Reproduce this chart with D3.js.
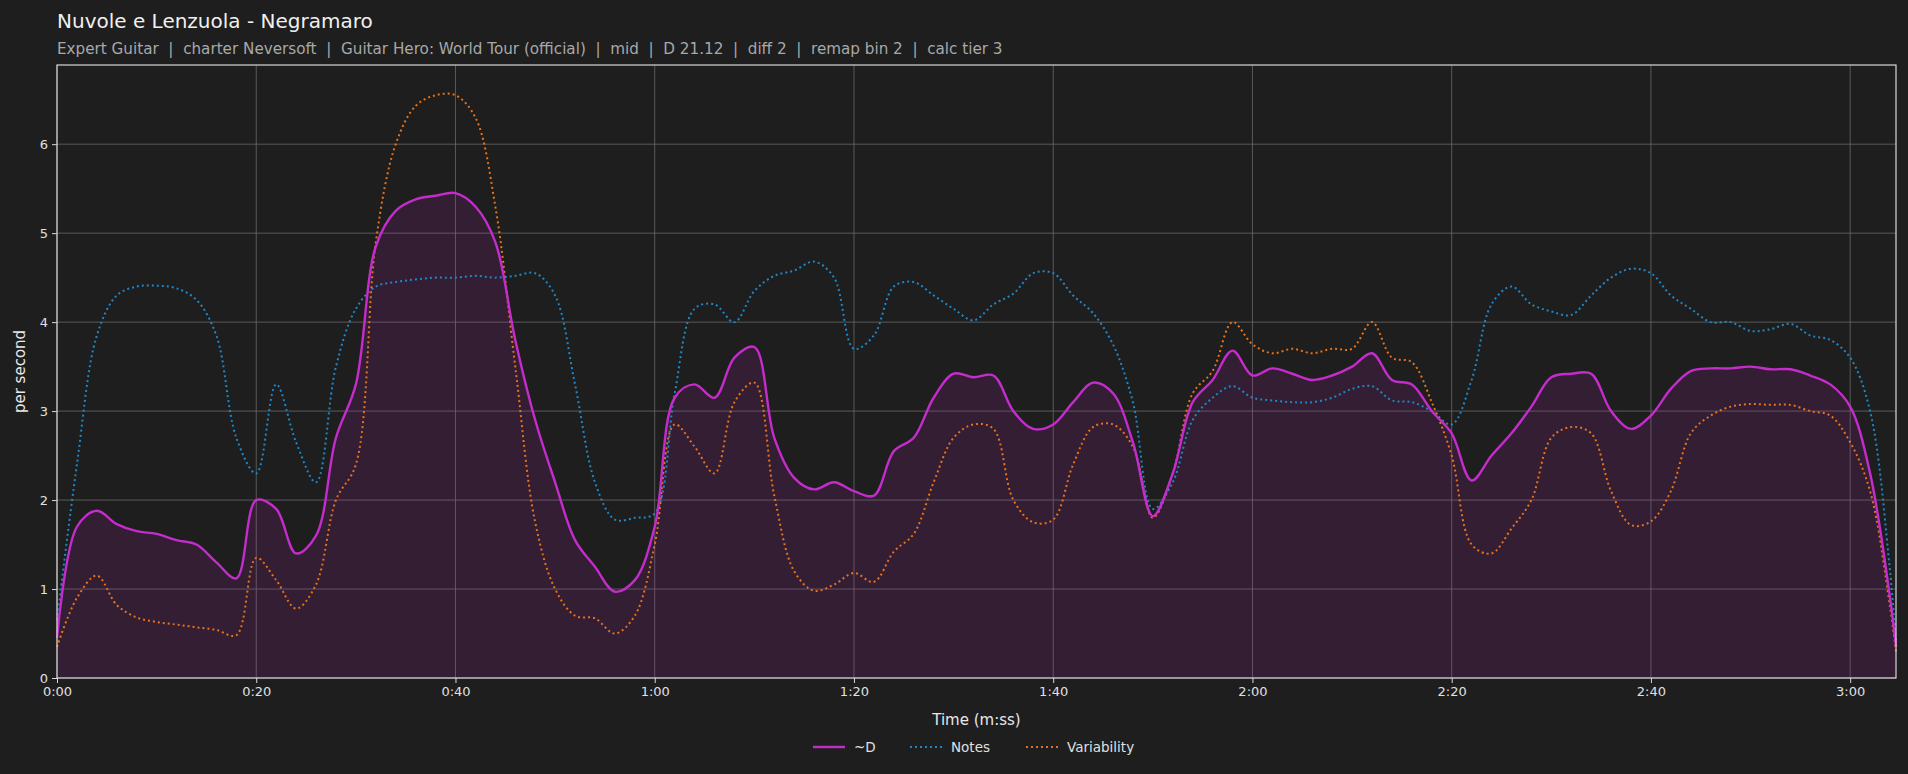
<!DOCTYPE html>
<html><head><meta charset="utf-8">
<script src="https://cdn.jsdelivr.net/npm/d3@7"></script>
<style>body{margin:0;background:#1e1e1e;}svg{display:block;font-family:"DejaVu Sans",sans-serif;}</style>
</head><body><svg id="c" width="1908" height="774"></svg>
<script>
const title = "Nuvole e Lenzuola - Negramaro";
const subtitle = "Expert Guitar  |  charter Neversoft  |  Guitar Hero: World Tour (official)  |  mid  |  D 21.12  |  diff 2  |  remap bin 2  |  calc tier 3";
const times = [0,2,4,6,8,10,12,14,16,18,20,22,24,26,28,30,32,34,36,38,40,42,44,46,48,50,52,54,56,58,60,62,64,66,68,70,72,74,76,78,80,82,84,86,88,90,92,94,96,98,100,102,104,106,108,110,112,114,116,118,120,122,124,126,128,130,132,134,136,138,140,142,144,146,148,150,152,154,156,158,160,162,164,166,168,170,172,174,176,178,180,182,184,184.6];
const dVals = [0.45,1.7,1.88,1.73,1.65,1.62,1.55,1.5,1.3,1.12,2.0,1.9,1.4,1.6,2.7,3.3,4.85,5.25,5.38,5.42,5.45,5.3,4.9,3.8,2.9,2.2,1.55,1.25,0.97,1.1,1.7,3.15,3.3,3.15,3.6,3.72,2.7,2.25,2.12,2.2,2.1,2.05,2.55,2.7,3.15,3.42,3.38,3.4,3.0,2.8,2.85,3.1,3.32,3.2,2.65,1.82,2.3,3.1,3.35,3.68,3.4,3.48,3.42,3.35,3.4,3.5,3.65,3.35,3.3,3.0,2.75,2.22,2.5,2.75,3.05,3.38,3.42,3.42,3.0,2.8,2.95,3.25,3.45,3.48,3.48,3.5,3.47,3.47,3.4,3.3,3.05,2.3,0.9,0.35];
const notesVals = [0.65,2.4,3.85,4.3,4.4,4.41,4.38,4.25,3.85,2.7,2.3,3.3,2.65,2.2,3.5,4.15,4.4,4.45,4.48,4.5,4.5,4.52,4.5,4.52,4.55,4.3,3.3,2.2,1.78,1.8,1.85,3.2,4.15,4.2,4.0,4.35,4.52,4.58,4.68,4.5,3.7,3.85,4.4,4.45,4.3,4.15,4.02,4.2,4.32,4.55,4.55,4.3,4.1,3.75,3.1,1.9,2.2,2.9,3.15,3.28,3.15,3.12,3.1,3.1,3.15,3.25,3.28,3.12,3.1,3.0,2.85,3.35,4.2,4.4,4.2,4.12,4.08,4.3,4.5,4.6,4.55,4.3,4.15,4.0,4.0,3.9,3.92,3.98,3.85,3.8,3.6,3.0,1.2,0.4];
const varVals = [0.35,0.9,1.15,0.82,0.68,0.63,0.6,0.57,0.54,0.48,1.35,1.1,0.78,1.05,2.0,2.4,4.9,6.0,6.43,6.55,6.55,6.3,5.3,3.5,1.75,1.0,0.7,0.67,0.5,0.7,1.5,2.85,2.6,2.3,3.1,3.32,2.05,1.2,0.98,1.05,1.18,1.08,1.42,1.62,2.2,2.7,2.85,2.8,2.0,1.75,1.78,2.4,2.82,2.85,2.6,1.8,2.3,3.2,3.45,4.0,3.75,3.65,3.7,3.65,3.7,3.7,4.0,3.6,3.55,3.1,2.5,1.5,1.4,1.68,2.0,2.7,2.82,2.75,2.1,1.72,1.76,2.1,2.75,2.95,3.05,3.08,3.07,3.07,3.0,2.95,2.65,2.1,0.8,0.3];
const xTicks = [0,20,40,60,80,100,120,140,160,180];
const yTicks = [0,1,2,3,4,5,6];
const legendLabels = ["~D","Notes","Variability"];

const svg = d3.select("#c");
const L=57,R=1896,T=65,B=678;
const x = d3.scaleLinear().domain([0,184.6]).range([L,R]);
const y = d3.scaleLinear().domain([0,6.89]).range([B,T]);
const fmt = s => Math.floor(s/60)+":"+String(s%60).padStart(2,"0");

svg.append("text").attr("x",57).attr("y",28).attr("fill","#f0f0f0").attr("font-size",20).text(title);
svg.append("text").attr("x",57).attr("y",54).attr("fill","#a8a8a8").attr("font-size",15.2).attr("xml:space","preserve").text(subtitle);

svg.append("g").selectAll("line").data(xTicks).join("line")
  .attr("x1",d=>x(d)).attr("x2",d=>x(d)).attr("y1",T).attr("y2",B).attr("stroke","#6a6a6a").attr("stroke-width",0.8);
svg.append("g").selectAll("line").data(yTicks).join("line")
  .attr("x1",L).attr("x2",R).attr("y1",d=>y(d)).attr("y2",d=>y(d)).attr("stroke","#6a6a6a").attr("stroke-width",0.8);

const pts = a => times.map((t,i)=>[t,a[i]]);
const curve = d3.curveCatmullRom.alpha(0.5);
const area = d3.area().x(d=>x(d[0])).y0(y(0)).y1(d=>y(d[1])).curve(curve);
const line = d3.line().x(d=>x(d[0])).y(d=>y(d[1])).curve(curve);
svg.append("path").attr("d",area(pts(dVals))).attr("fill","#c020c0").attr("fill-opacity",0.13);
svg.append("path").attr("d",line(pts(notesVals))).attr("fill","none").attr("stroke","#1f87c8").attr("stroke-width",2).attr("stroke-dasharray","2,3");
svg.append("path").attr("d",line(pts(varVals))).attr("fill","none").attr("stroke","#e8721a").attr("stroke-width",2).attr("stroke-dasharray","2,3");
svg.append("path").attr("d",line(pts(dVals))).attr("fill","none").attr("stroke","#c42ccc").attr("stroke-width",2.4);

svg.append("rect").attr("x",L).attr("y",T).attr("width",R-L).attr("height",B-T).attr("fill","none").attr("stroke","#d8d8d8").attr("stroke-width",1.2);

const xa = svg.append("g").attr("transform",`translate(0,${B})`).call(d3.axisBottom(x).tickValues(xTicks).tickFormat(fmt).tickSize(5).tickPadding(4));
const ya = svg.append("g").attr("transform",`translate(${L},0)`).call(d3.axisLeft(y).tickValues(yTicks).tickFormat(d3.format("d")).tickSize(5).tickPadding(4));
[xa,ya].forEach(g=>{g.select(".domain").remove();g.selectAll("line").attr("stroke","#d8d8d8");g.selectAll("text").attr("fill","#e0e0e0").attr("font-size",13).attr("font-family","DejaVu Sans");});

svg.append("text").attr("x",(L+R)/2).attr("y",725).attr("text-anchor","middle").attr("fill","#e8e8e8").attr("font-size",15).text("Time (m:ss)");
svg.append("text").attr("transform","translate(25,"+((T+B)/2)+") rotate(-90)").attr("text-anchor","middle").attr("fill","#e8e8e8").attr("font-size",15).text("per second");

const lg = [{c:"#c42ccc",d:null,x:813},{c:"#1f87c8",d:"2,3",x:910},{c:"#e8721a",d:"2,3",x:1026}];
lg.forEach((o,i)=>{
  svg.append("line").attr("x1",o.x).attr("x2",o.x+32).attr("y1",747).attr("y2",747).attr("stroke",o.c).attr("stroke-width",o.d?2:2.4).attr("stroke-dasharray",o.d);
  svg.append("text").attr("x",o.x+41).attr("y",752).attr("fill","#e0e0e0").attr("font-size",13.5).text(legendLabels[i]);
});
</script></body></html>
